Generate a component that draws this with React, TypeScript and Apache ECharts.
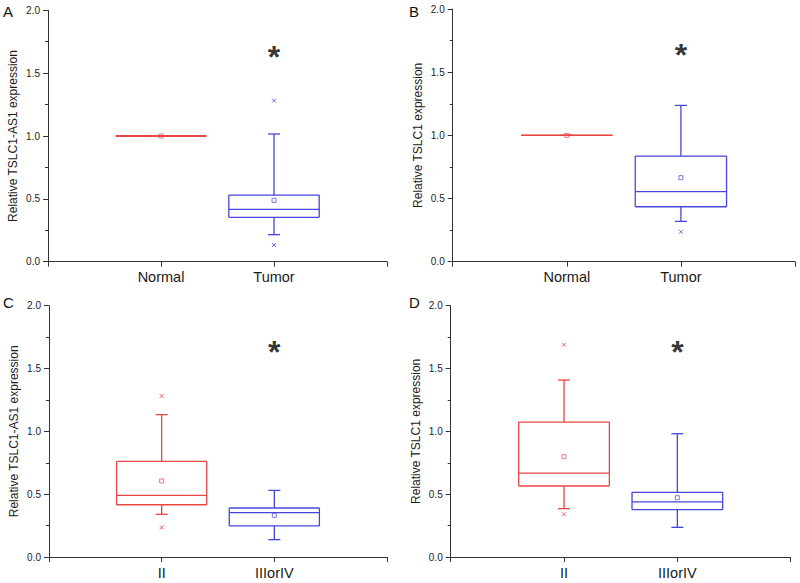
import React, { useEffect, useRef } from "react";
import * as echarts from "echarts";

const FONT = "'Liberation Sans', Arial, Helvetica, sans-serif";
const RED = "#E84545";
const BLUE = "#4646DC";

const categoriesAB = ["", "Normal", "Tumor", ""];
const categoriesCD = ["", "II", "IIIorIV", ""];

const yNameA = "Relative TSLC1-AS1 expression";
const yNameB = "Relative TSLC1 expression";

// box stats: [min, Q1, median, Q3, max]
const boxA_normal = [1.0, 1.0, 1.0, 1.0, 1.0];
const boxA_tumor = [0.215, 0.353, 0.416, 0.53, 1.016];
const meanA = [1.0, 0.488];
const outA_normal: number[] = [];
const outA_tumor = [1.281, 0.133];

const boxB_normal = [1.0, 1.0, 1.0, 1.0, 1.0];
const boxB_tumor = [0.319, 0.435, 0.554, 0.836, 1.237];
const meanB = [1.0, 0.665];
const outB_normal: number[] = [];
const outB_tumor = [0.237];

const boxC_II = [0.34, 0.416, 0.491, 0.761, 1.133];
const boxC_III = [0.138, 0.247, 0.353, 0.39, 0.53];
const meanC = [0.605, 0.332];
const outC_II = [1.281, 0.236];
const outC_III: number[] = [];

const boxD_II = [0.385, 0.565, 0.668, 1.074, 1.408];
const boxD_III = [0.236, 0.377, 0.438, 0.515, 0.981];
const meanD = [0.798, 0.472];
const outD_II = [1.69, 0.34];
const outD_III: number[] = [];

const starValue = [1.67, 1.675, 1.67, 1.67];

const panelLetters = ["A", "B", "C", "D"];

const grids = [
  { left: 48, top: 10.3, width: 339, height: 251.4 },
  { left: 452.7, top: 9, width: 342.3, height: 252.7 },
  { left: 49, top: 305.7, width: 338, height: 251.3 },
  { left: 450.7, top: 305.7, width: 340, height: 251.3 },
];

const letterPos = [
  { x: 3, y: 4 },
  { x: 409, y: 4 },
  { x: 3, y: 295 },
  { x: 409, y: 295 },
];

type Panel = {
  cats: string[];
  yName: string;
  boxes: number[][];
  means: number[];
  outliers: number[][];
};

const panels: Panel[] = [
  { cats: categoriesAB, yName: yNameA, boxes: [boxA_normal, boxA_tumor], means: meanA, outliers: [outA_normal, outA_tumor] },
  { cats: categoriesAB, yName: yNameB, boxes: [boxB_normal, boxB_tumor], means: meanB, outliers: [outB_normal, outB_tumor] },
  { cats: categoriesCD, yName: yNameA, boxes: [boxC_II, boxC_III], means: meanC, outliers: [outC_II, outC_III] },
  { cats: categoriesCD, yName: yNameB, boxes: [boxD_II, boxD_III], means: meanD, outliers: [outD_II, outD_III] },
];

const colors = [RED, BLUE];

function makeRenderItem(color: string) {
  return (params: any, api: any) => {
    const x = api.value(0);
    const v = [1, 2, 3, 4, 5].map((i) => api.value(i));
    const pMin = api.coord([x, v[0]]);
    const pQ1 = api.coord([x, v[1]]);
    const pMed = api.coord([x, v[2]]);
    const pQ3 = api.coord([x, v[3]]);
    const pMax = api.coord([x, v[4]]);
    const band = Math.abs(api.coord([x + 1, v[0]])[0] - pMin[0]);
    const hw = (band * 0.8) / 2;
    const cap = 6;
    const cx = pMin[0];
    const style = { stroke: color, fill: "none", lineWidth: 1.3 };
    const ln = (x1: number, y1: number, x2: number, y2: number) => ({
      type: "line",
      shape: { x1, y1, x2, y2 },
      style,
    });
    return {
      type: "group",
      children: [
        ln(cx, pQ3[1], cx, pMax[1]),
        ln(cx, pQ1[1], cx, pMin[1]),
        ln(cx - cap, pMax[1], cx + cap, pMax[1]),
        ln(cx - cap, pMin[1], cx + cap, pMin[1]),
        ln(cx - hw, pQ3[1], cx + hw, pQ3[1]),
        ln(cx - hw, pQ1[1], cx + hw, pQ1[1]),
        ln(cx - hw, pQ3[1], cx - hw, pQ1[1]),
        ln(cx + hw, pQ3[1], cx + hw, pQ1[1]),
        ln(cx - hw, pMed[1], cx + hw, pMed[1]),
      ],
    };
  };
}

function buildOption() {
  const grid: any[] = [];
  const xAxis: any[] = [];
  const yAxis: any[] = [];
  const series: any[] = [];
  panels.forEach((p, i) => {
    grid.push({ ...grids[i], outerBoundsMode: "none", containLabel: false });
    xAxis.push({
      type: "category",
      gridIndex: i,
      data: p.cats,
      boundaryGap: false,
      axisLine: { show: true, lineStyle: { color: "#333", width: 1 } },
      axisTick: { show: true, length: 5, interval: 0, lineStyle: { color: "#333" } },
      axisLabel: { interval: 0, fontSize: 14.5, color: "#1a1a1a", margin: 8, fontFamily: FONT },
      splitLine: { show: false },
    });
    yAxis.push({
      type: "value",
      gridIndex: i,
      min: 0,
      max: 2,
      interval: 0.5,
      axisLine: { show: true, lineStyle: { color: "#333", width: 1 } },
      axisTick: { show: true, length: 5, lineStyle: { color: "#333" } },
      minorTick: { show: true, splitNumber: 2, length: 3, lineStyle: { color: "#333" } },
      splitLine: { show: false },
      minorSplitLine: { show: false },
      axisLabel: {
        formatter: (val: number) => val.toFixed(1),
        fontSize: 10,
        color: "#222",
        margin: 8,
        fontFamily: FONT,
      },
      name: p.yName,
      nameLocation: "middle",
      nameGap: 29,
      nameTextStyle: { fontSize: 12, color: "#1a1a1a", fontFamily: FONT },
    });
    p.boxes.forEach((b, k) => {
      const idx = k + 1;
      series.push({
        type: "custom",
        xAxisIndex: i,
        yAxisIndex: i,
        renderItem: makeRenderItem(colors[k]),
        data: [[idx, ...b]],
        encode: { x: 0, y: [1, 2, 3, 4, 5] },
        z: 2,
      });
      series.push({
        type: "scatter",
        xAxisIndex: i,
        yAxisIndex: i,
        symbol: "rect",
        symbolSize: 4,
        itemStyle: { color: "rgba(0,0,0,0)", borderColor: colors[k], borderWidth: 0.9 },
        data: [[idx, p.means[k]]],
        z: 3,
      });
      series.push({
        type: "scatter",
        xAxisIndex: i,
        yAxisIndex: i,
        symbol: "path://M0,0L4,4M4,0L0,4",
        symbolSize: 4,
        itemStyle: { color: "rgba(0,0,0,0)", borderColor: colors[k], borderWidth: 1 },
        data: p.outliers[k].map((o) => [idx, o]),
        z: 3,
      });
    });
    series.push({
      type: "scatter",
      xAxisIndex: i,
      yAxisIndex: i,
      symbolSize: 1,
      itemStyle: { color: "rgba(0,0,0,0)" },
      data: [[2, starValue[i]]],
      label: {
        show: true,
        position: "inside",
        formatter: "*",
        fontSize: 32,
        fontWeight: "bold",
        color: "#000",
        fontFamily: FONT,
        offset: [0, 5],
      },
      z: 4,
    });
  });
  const graphic = panelLetters.map((t, i) => ({
    type: "text",
    left: letterPos[i].x,
    top: letterPos[i].y,
    style: { text: t, fontSize: 15, fill: "#111", fontFamily: FONT },
  }));
  return {
    animation: false,
    backgroundColor: "#ffffff",
    grid,
    xAxis,
    yAxis,
    series,
    graphic,
  };
}

export default function App() {
  const ref = useRef<HTMLDivElement>(null);
  useEffect(() => {
    if (!ref.current) return;
    const chart = echarts.init(ref.current, undefined, { renderer: "svg" });
    chart.setOption(buildOption() as any);
    return () => chart.dispose();
  }, []);
  return (
    <div
      ref={ref}
      style={{ position: "fixed", left: 0, top: 0, width: 800, height: 583, background: "#fff" }}
    />
  );
}
